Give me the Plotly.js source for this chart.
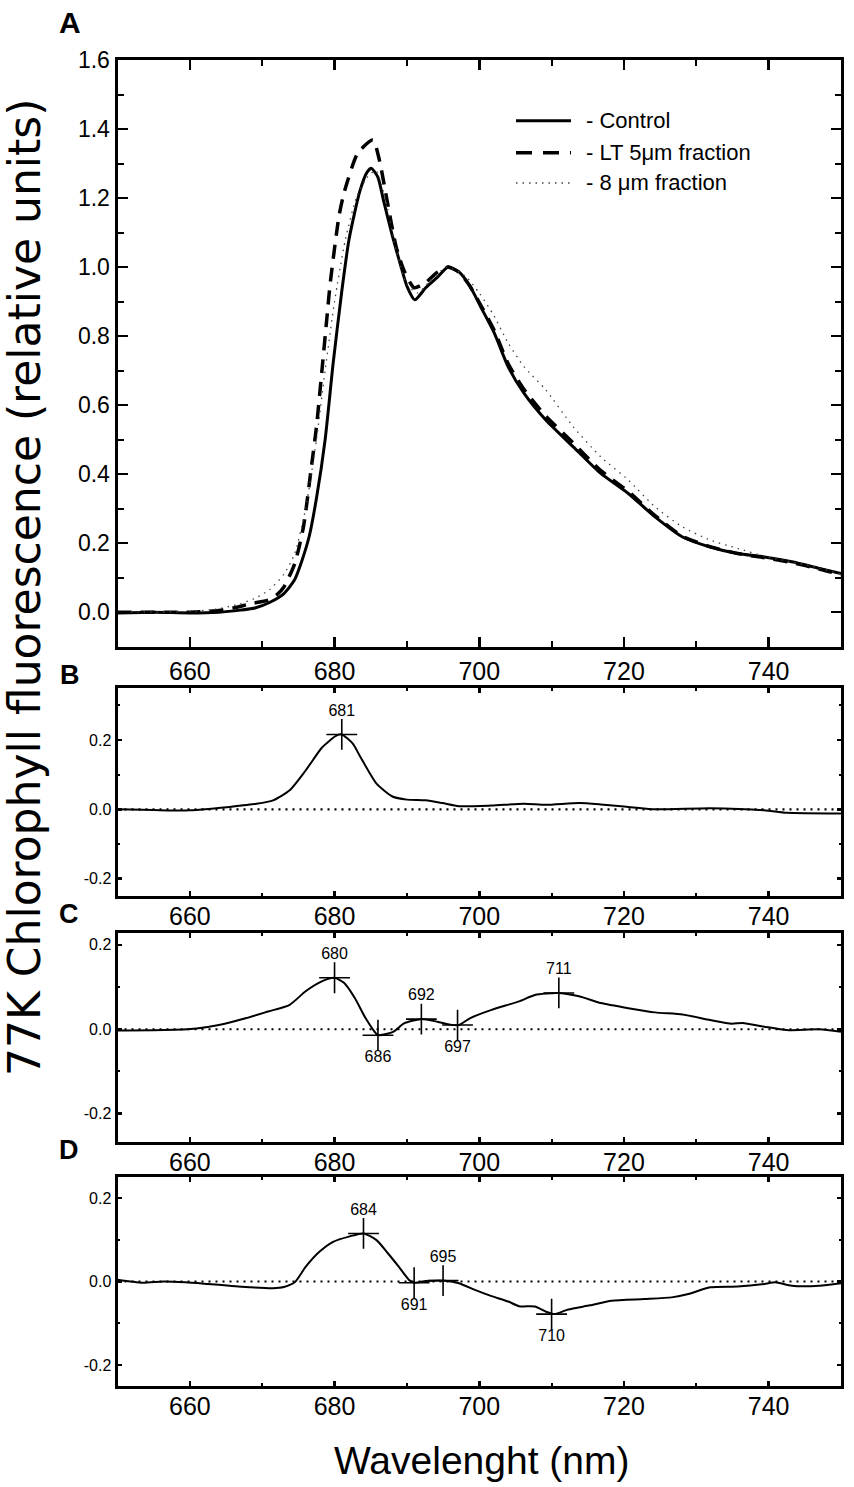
<!DOCTYPE html>
<html><head><meta charset="utf-8">
<script src="https://cdn.plot.ly/plotly-3.0.1.min.js"></script>
<style>html,body{margin:0;padding:0;background:#fff}#chart{width:854px;height:1487px}</style>
</head><body><div id="chart"></div>
<script>
// ---- Panel A: 77K emission spectra ----
const ctrlX = [650,655,660,664,667,669,671,673,674.5,675.5,676.5,677.5,678.7,679.8,681,682,683.5,684.5,685.1,686,686.8,688,689.2,690,691.1,692.6,694.2,695.7,697.2,698.7,700.2,702.1,704,706.2,709.2,713,716.8,720.6,724.3,728.1,731.9,735.7,739.4,743.2,747,750];
const ctrlY = [-0.002,0.0,-0.002,0.0,0.006,0.012,0.028,0.054,0.095,0.15,0.22,0.33,0.5,0.72,0.93,1.08,1.22,1.275,1.286,1.26,1.19,1.09,1.0,0.945,0.905,0.94,0.97,1.0,0.986,0.945,0.885,0.808,0.711,0.634,0.557,0.479,0.402,0.344,0.276,0.218,0.189,0.17,0.16,0.146,0.127,0.112];
const lt5X = [650,660,664,666,668.5,670.8,672,673,674.5,675.7,676.8,677.5,678.3,679,679.4,680.6,681.3,683.2,685.3,686.2,687.2,688.5,689.6,691,692.6,694.2,695.7,697.2,698.7,700.2,702.1,704,706.2,709.2,713,716.8,720.6,724.3,728.1,731.9,735.7,739.4,743.2,747,750];
const lt5Y = [0.0,0.0,0.005,0.012,0.025,0.035,0.05,0.073,0.141,0.247,0.421,0.537,0.71,0.866,0.953,1.146,1.214,1.33,1.368,1.31,1.2,1.06,0.99,0.94,0.955,0.985,1.0,0.985,0.945,0.89,0.815,0.72,0.645,0.568,0.49,0.41,0.35,0.28,0.22,0.19,0.17,0.158,0.144,0.125,0.108];
const um8X = [650,660,664,667,669,671,673,674.5,676,677.5,678.7,680,681.5,683,684.5,685.7,687,688.5,690,691.5,693,695.5,698,700,702,704,706.2,709.2,713,716.8,720.6,724.3,728.1,731.9,735.7,739.4,743.2,747,750];
const um8Y = [0.0,0.002,0.01,0.025,0.04,0.065,0.11,0.17,0.3,0.5,0.7,0.9,1.08,1.2,1.26,1.28,1.2,1.05,0.95,0.925,0.955,1.0,0.975,0.925,0.86,0.78,0.711,0.644,0.537,0.45,0.383,0.305,0.247,0.209,0.185,0.162,0.146,0.128,0.11];

// ---- Panel B: difference spectrum ----
const diffBX = [650,655,660,663,665.5,669.2,671.5,673.8,676,678.3,680.2,681,682.5,683.6,685.8,688,690,692.6,694.9,697.2,701.7,706.2,709.2,713.8,716.8,720,724.3,731.9,739.4,742.5,750];
const diffBY = [0.0,-0.002,-0.003,0.002,0.007,0.016,0.026,0.055,0.112,0.179,0.212,0.216,0.19,0.15,0.074,0.037,0.028,0.026,0.018,0.009,0.011,0.016,0.013,0.018,0.014,0.008,0.0,0.003,-0.003,-0.01,-0.012];
const peakBX = [681];
const peakBY = [0.216];
const peakBLab = ['681'];
const peakBPos = ['top center'];

// ---- Panel C ----
const diffCX = [650,656.4,660.9,664,667.7,670.8,673.8,676,678.3,680,681.3,682.8,684.3,685.8,686.2,688.1,689.6,691.9,694.2,696,697.2,698.7,701.7,705.5,707.7,710.8,713.8,716.8,720.6,724.3,728.1,731.9,734.9,736.4,739.4,742.5,747,750];
const diffCY = [-0.003,-0.002,0.002,0.01,0.026,0.042,0.058,0.09,0.114,0.122,0.11,0.074,0.026,-0.011,-0.014,-0.006,0.014,0.024,0.018,0.011,0.01,0.026,0.046,0.066,0.081,0.086,0.078,0.062,0.05,0.04,0.035,0.022,0.013,0.015,0.006,-0.002,0.0,-0.006];
const peakCX = [680,686,692,697,711];
const peakCY = [0.122,-0.014,0.024,0.01,0.086];
const peakCLab = ['680','686','692','697','711'];
const peakCPos = ['top center','bottom center','top center','bottom center','top center'];

// ---- Panel D ----
const diffDX = [650,653.4,656.4,659.4,662.5,665.5,668.5,671.5,673,674.5,676,677.9,679.8,682.1,684,685.8,687.4,688.9,690.4,691.1,692.6,695.3,697.2,699.4,701.7,704,705.5,707.7,709.2,710.4,712.3,715.3,718.3,722.8,726.6,728.9,731.9,735.7,739.4,740.9,743.2,747,750];
const diffDY = [0.004,-0.003,0.0,-0.002,-0.006,-0.01,-0.014,-0.016,-0.013,-0.002,0.035,0.071,0.095,0.108,0.115,0.099,0.067,0.035,0.002,-0.003,0.001,0.002,-0.004,-0.02,-0.035,-0.048,-0.059,-0.06,-0.072,-0.078,-0.067,-0.057,-0.046,-0.042,-0.038,-0.03,-0.014,-0.012,-0.006,-0.002,-0.01,-0.01,-0.004];
const peakDX = [684,691,695,710];
const peakDY = [0.115,-0.003,0.002,-0.078];
const peakDLab = ['684','691','695','710'];
const peakDPos = ['top center','bottom center','top center','bottom center'];

const xTickVals = [660,680,700,720,740];
const xTickText = ['660','680','700','720','740'];
const yTickValsA = [0,0.2,0.4,0.6,0.8,1.0,1.2,1.4,1.6];
const yTickTextA = ['0.0','0.2','0.4','0.6','0.8','1.0','1.2','1.4','1.6'];
const yTickValsD = [-0.2,0,0.2];
const yTickTextD = ['-0.2','0.0','0.2'];

const legendNames = ['- Control','- LT 5\u03bcm fraction','- 8 \u03bcm fraction'];

const SANS = '"Liberation Sans", Arial, sans-serif';

const lineSpec = {shape:'spline', smoothing:0.6};
const traces = [
  {x:ctrlX, y:ctrlY, xaxis:'x', yaxis:'y', mode:'lines', line:Object.assign({color:'#000', width:3}, lineSpec)},
  {x:lt5X, y:lt5Y, xaxis:'x', yaxis:'y', mode:'lines', line:Object.assign({color:'#000', width:3.5, dash:'14px,9px'}, lineSpec)},
  {x:um8X, y:um8Y, xaxis:'x', yaxis:'y', mode:'lines', line:Object.assign({color:'#444', width:1.3, dash:'1.5px,5px'}, lineSpec)},
  {x:diffBX, y:diffBY, xaxis:'x2', yaxis:'y2', mode:'lines', line:Object.assign({color:'#000', width:2}, lineSpec)},
  {x:diffCX, y:diffCY, xaxis:'x3', yaxis:'y3', mode:'lines', line:Object.assign({color:'#000', width:2}, lineSpec)},
  {x:diffDX, y:diffDY, xaxis:'x4', yaxis:'y4', mode:'lines', line:Object.assign({color:'#000', width:2}, lineSpec)},
];
function peaks(px, py, lab, pos, xa, ya){
  return {x:px, y:py, text:lab, textposition:pos, xaxis:xa, yaxis:ya, mode:'markers+text', cliponaxis:false,
    marker:{symbol:'cross-thin', size:22, line:{color:'#000', width:1.6}, color:'#000'},
    textfont:{family:SANS, size:16, color:'#000'}};
}
traces.push(peaks(peakBX, peakBY, peakBLab, peakBPos, 'x2','y2'));
traces.push(peaks(peakCX, peakCY, peakCLab, peakCPos, 'x3','y3'));
traces.push(peaks(peakDX, peakDY, peakDLab, peakDPos, 'x4','y4'));

const W = 854, H = 1487;
const xd = [117.5/W, 841/W];
function yd(top, bot){ return [1-bot/H, 1-top/H]; }

function xaxis(anchor){
  const big = anchor==='y';
  return {domain:xd, anchor:anchor, range:[650,750], tickvals:xTickVals, ticktext:xTickText,
    ticks:'inside', ticklen:big?10:5, tickwidth:2.5, tickcolor:'#000', ticklabelstandoff:big?0:-4,
    minor:{ticks:'inside', ticklen:big?6:3, tickwidth:2, tickcolor:'#000', tickvals:[650,670,690,710,730,750]},
    showline:true, linewidth:3, linecolor:'#000', mirror:'allticks', showgrid:false, zeroline:false,
    tickfont:{family:SANS, size:25, color:'#000'}, fixedrange:true};
}
function yaxis(anchor, dom, rng, vals, txt, big){
  return {domain:dom, anchor:anchor, range:rng, tickvals:vals, ticktext:txt,
    ticks:'inside', ticklen:big?10:4, tickwidth:2.5, tickcolor:'#000',
    minor:{ticks:'inside', ticklen:big?6:2, tickwidth:2, tickcolor:'#000', dtick:0.1, tick0:0},
    showline:true, linewidth:3, linecolor:'#000', mirror:'allticks', showgrid:false, zeroline:false,
    tickfont:{family:SANS, size:big?23:16, color:'#000'}, fixedrange:true};
}

const shapes = [];
[['x2','y2'],['x3','y3'],['x4','y4']].forEach(([xa,ya])=>{
  shapes.push({type:'line', xref:xa, yref:ya, x0:650, x1:751, y0:0, y1:0, line:{color:'#000', width:2.2, dash:'2px,5px'}});
});
// legend samples (layout decoration)
const legY = [120.7, 152.7, 183];
const legStyles = [{color:'#000', width:3}, {color:'#000', width:3.5, dash:'16px,11px'}, {color:'#444', width:1.3, dash:'1.5px,5px'}];
const annotations = [];
legY.forEach((py,i)=>{
  shapes.push({type:'line', xref:'paper', yref:'paper', x0:516/W, x1:571/W, y0:1-py/H, y1:1-py/H, line:legStyles[i]});
  annotations.push({xref:'paper', yref:'paper', x:584/W, y:1-py/H, xanchor:'left', yanchor:'middle', showarrow:false,
    text:legendNames[i], font:{family:SANS, size:22, color:'#000'}});
});
[['A',70,22,30],['B',70,675,27],['C',69,914,27],['D',69,1150,27]].forEach(([t,px,py,fs])=>{
  annotations.push({xref:'paper', yref:'paper', x:px/W, y:1-py/H, xanchor:'center', yanchor:'middle', showarrow:false,
    text:'<b>'+t+'</b>', font:{family:SANS, size:fs, color:'#000'}});
});
annotations.push({xref:'paper', yref:'paper', x:24/W, y:1-588/H, xanchor:'center', yanchor:'middle', showarrow:false, textangle:-90,
  text:'77K Chlorophyll fluorescence (relative units)', font:{family:'"DejaVu Sans", sans-serif', size:44, color:'#000'}});
annotations.push({xref:'paper', yref:'paper', x:482/W, y:1-1460/H, xanchor:'center', yanchor:'middle', showarrow:false,
  text:'Wavelenght (nm)', font:{family:SANS, size:39, color:'#000'}});

const layout = {
  width:W, height:H, margin:{l:0,r:0,t:0,b:0}, paper_bgcolor:'#fff', plot_bgcolor:'#fff', showlegend:false,
  xaxis:xaxis('y'), xaxis2:xaxis('y2'), xaxis3:xaxis('y3'), xaxis4:xaxis('y4'),
  yaxis:yaxis('x', yd(60,646.7), [-0.1,1.6], yTickValsA, yTickTextA, true),
  yaxis2:yaxis('x2', yd(688,896), [-0.25,0.35], yTickValsD, yTickTextD, false),
  yaxis3:yaxis('x3', yd(933,1142), [-0.267,0.228], yTickValsD, yTickTextD, false),
  yaxis4:yaxis('x4', yd(1177,1386), [-0.25,0.25], yTickValsD, yTickTextD, false),
  shapes:shapes, annotations:annotations
};
Plotly.newPlot('chart', traces, layout, {staticPlot:true, displayModeBar:false});
</script></body></html>
